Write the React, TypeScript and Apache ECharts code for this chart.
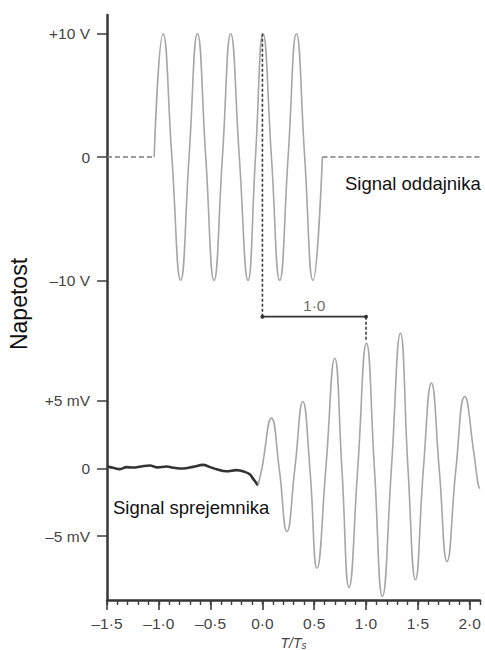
import React, { useEffect, useRef } from "react";
import * as echarts from "echarts";

// ---- tick labels ----
const xTickValues = [-1.5, -1.0, -0.5, 0, 0.5, 1.0, 1.5, 2.0];
const xTickLabels = ["–1·5", "–1·0", "–0·5", "0·0", "0·5", "1·0", "1·5", "2·0"];
const xMinorTicks = [
  -1.5, -1.4, -1.3, -1.2, -1.1, -1.0, -0.9, -0.8, -0.7, -0.6, -0.5, -0.4, -0.3, -0.2, -0.1,
  0, 0.1, 0.2, 0.3, 0.4, 0.5, 0.6, 0.7, 0.8, 0.9, 1.0, 1.1, 1.2, 1.3, 1.4, 1.5, 1.6, 1.7,
  1.8, 1.9, 2.0, 2.1,
];
const yVTickValues = [10, 0, -10];
const yVTickLabels = ["+10 V", "0", "–10 V"];
const ymVTickValues = [5, 0, -5];
const ymVTickLabels = ["+5 mV", "0", "–5 mV"];

// ---- transmitter signal (V) ----
const txPreX = [-1.5, -1.045];
const txPreY = [0, 0];
const txWaveX = [
  -1.045, -0.959, -0.874, -0.789, -0.708, -0.627, -0.547, -0.467, -0.386, -0.306, -0.223,
  -0.139, -0.067, 0.006, 0.087, 0.167, 0.248, 0.328, 0.408, 0.488, 0.579,
];
const txWaveY = [0, 10, 0, -10, 0, 10, 0, -10, 0, 10, 0, -10, 0, 10, 0, -10, 0, 10, 0, -10, 0];
const txPostX = [0.579, 2.1];
const txPostY = [0, 0];

// ---- receiver signal (mV) ----
const rxBaseX = [
  -1.5, -1.44, -1.376, -1.31, -1.25, -1.17, -1.088, -1.01, -0.927, -0.85, -0.766, -0.67,
  -0.573, -0.51, -0.444, -0.347, -0.251, -0.171, -0.12, -0.091, -0.042,
];
const rxBaseY = [
  0.15, 0.05, -0.05, 0.1, 0.07, 0.15, 0.22, 0.08, 0.15, 0.05, 0.0, 0.12, 0.27, 0.12, -0.05,
  -0.2, -0.12, -0.25, -0.45, -0.75, -1.25,
];
const rxWaveX = [
  -0.042, -0.005, 0.087, 0.162, 0.237, 0.313, 0.39, 0.458, 0.527, 0.612, 0.698, 0.767, 0.836,
  0.92, 1.004, 1.081, 1.158, 1.245, 1.332, 1.405, 1.477, 1.554, 1.631, 1.706, 1.782, 1.868,
  1.953, 2.04, 2.08, 2.097,
];
const rxWaveY = [
  -1.25, 0, 3.73, 0, -4.67, 0, 4.96, 0, -7.39, 0, 8.17, 0, -8.81, 0, 9.28, 0, -9.48, 0, 10.02,
  0, -8.24, 0, 6.32, 0, -6.89, 0, 5.33, 1.2, -1.1, -1.5,
];

// ---- scale bar (1·0 period) ----
const barX = [0, 1.0];
const barYV = [-12.95, -12.95];
const dash0X = [0, 0];
const dash0Y = [10, -12.95];
const dash1X = [1.0, 1.0];
const dash1Y = [-12.95, -14.98];

const zip = (xs: number[], ys: number[]) => xs.map((x, i) => [x, ys[i]]);

const FONT = "'Liberation Sans', Arial, Helvetica, sans-serif";
const LABEL_COLOR = "#444444";

export default function App() {
  const ref = useRef<HTMLDivElement>(null);
  useEffect(() => {
    if (!ref.current) return;
    const chart = echarts.init(ref.current, null, { renderer: "svg" });
    const waveGray = "#a6a6a6";
    chart.setOption({
      animation: false,
      backgroundColor: "#ffffff",
      grid: {
        left: 107,
        right: 5,
        top: 15,
        bottom: 50,
        containLabel: false,
        outerBoundsMode: "none",
      },
      xAxis: [
        {
          type: "value",
          position: "bottom",
          min: -1.5,
          max: 2.1,
          interval: 0.5,
          splitLine: { show: false },
          axisLine: { show: true, onZero: false, lineStyle: { color: "#363636", width: 2.5 } },
          axisTick: {
            show: true,
            customValues: xTickValues,
            length: 10,
            lineStyle: { color: "#3c3c3c", width: 1.6 },
          },
          axisLabel: {
            customValues: xTickValues,
            margin: 15,
            fontSize: 15.5,
            fontFamily: FONT,
            color: LABEL_COLOR,
            formatter: (v: number) => {
              const i = xTickValues.findIndex((t) => Math.abs(t - v) < 1e-6);
              return i >= 0 ? xTickLabels[i] : "";
            },
          },
          name: "{a|T/T}{b|s}",
          nameLocation: "middle",
          nameGap: 33,
          nameTextStyle: {
            rich: {
              a: { fontSize: 14, fontStyle: "italic", fontFamily: FONT, color: LABEL_COLOR },
              b: { fontSize: 10, fontStyle: "italic", fontFamily: FONT, color: LABEL_COLOR, padding: [5, 0, 0, 0] },
            },
          },
        },
        {
          type: "value",
          position: "bottom",
          min: -1.5,
          max: 2.1,
          interval: 0.5,
          splitLine: { show: false },
          axisLine: { show: false, onZero: false },
          axisLabel: { show: false },
          axisTick: {
            show: true,
            customValues: xMinorTicks,
            length: 5,
            lineStyle: { color: "#3c3c3c", width: 1.4 },
          },
        },
      ],
      yAxis: [
        {
          type: "value",
          position: "left",
          min: -35.93,
          max: 11.52,
          splitLine: { show: false },
          axisLine: { show: true, onZero: false, lineStyle: { color: "#363636", width: 2.5 } },
          axisTick: {
            show: true,
            customValues: yVTickValues,
            length: 10,
            lineStyle: { color: "#3c3c3c", width: 1.5 },
          },
          axisLabel: {
            customValues: yVTickValues,
            margin: 17,
            fontSize: 15.5,
            fontFamily: FONT,
            color: LABEL_COLOR,
            formatter: (v: number) => {
              const i = yVTickValues.findIndex((t) => Math.abs(t - v) < 1e-6);
              return i >= 0 ? yVTickLabels[i] : "";
            },
          },
        },
        {
          type: "value",
          position: "left",
          offset: 0,
          min: -9.74,
          max: 33.59,
          splitLine: { show: false },
          axisLine: { show: false, onZero: false },
          axisTick: {
            show: true,
            customValues: ymVTickValues,
            length: 10,
            lineStyle: { color: "#3c3c3c", width: 1.5 },
          },
          axisLabel: {
            customValues: ymVTickValues,
            margin: 17,
            fontSize: 15.5,
            fontFamily: FONT,
            color: LABEL_COLOR,
            formatter: (v: number) => {
              const i = ymVTickValues.findIndex((t) => Math.abs(t - v) < 1e-6);
              return i >= 0 ? ymVTickLabels[i] : "";
            },
          },
        },
      ],
      series: [
        {
          type: "line",
          xAxisIndex: 0,
          yAxisIndex: 0,
          data: zip(txPreX, txPreY),
          symbol: "none",
          lineStyle: { color: "#7a7a7a", width: 1.5, type: [5, 3] },
        },
        {
          type: "line",
          xAxisIndex: 0,
          yAxisIndex: 0,
          data: zip(txWaveX, txWaveY),
          smooth: 0.5,
          symbol: "none",
          lineStyle: { color: waveGray, width: 1.6 },
        },
        {
          type: "line",
          xAxisIndex: 0,
          yAxisIndex: 0,
          data: zip(txPostX, txPostY),
          symbol: "none",
          lineStyle: { color: "#7a7a7a", width: 1.5, type: [5, 3] },
        },
        {
          type: "line",
          xAxisIndex: 0,
          yAxisIndex: 1,
          data: zip(rxBaseX, rxBaseY),
          smooth: 0.4,
          symbol: "none",
          lineStyle: { color: "#333333", width: 2.6 },
        },
        {
          type: "line",
          xAxisIndex: 0,
          yAxisIndex: 1,
          data: zip(rxWaveX, rxWaveY),
          smooth: 0.5,
          symbol: "none",
          lineStyle: { color: waveGray, width: 1.6 },
        },
        {
          type: "line",
          xAxisIndex: 0,
          yAxisIndex: 0,
          data: zip(dash0X, dash0Y),
          symbol: "none",
          lineStyle: { color: "#3a3a3a", width: 1.6, type: [3, 2] },
        },
        {
          type: "line",
          xAxisIndex: 0,
          yAxisIndex: 0,
          data: zip(dash1X, dash1Y),
          symbol: "none",
          lineStyle: { color: "#3a3a3a", width: 1.6, type: [3, 2] },
        },
        {
          type: "line",
          xAxisIndex: 0,
          yAxisIndex: 0,
          data: zip(barX, barYV),
          symbol: "circle",
          symbolSize: 4,
          itemStyle: { color: "#333333" },
          lineStyle: { color: "#333333", width: 1.8 },
        },
        {
          type: "scatter",
          xAxisIndex: 0,
          yAxisIndex: 0,
          data: [[(barX[0] + barX[1]) / 2, barYV[0]]],
          symbolSize: 0,
          label: {
            show: true,
            position: "top",
            distance: 3,
            formatter: "1·0",
            fontSize: 15.5,
            fontFamily: FONT,
            color: LABEL_COLOR,
          },
        },
      ],
      graphic: [
        {
          type: "text",
          x: 19,
          y: 304,
          rotation: Math.PI / 2,
          style: {
            text: "Napetost",
            fontSize: 23,
            fontFamily: FONT,
            fill: "#111111",
            align: "center",
            verticalAlign: "middle",
          },
        },
        {
          type: "text",
          x: 345,
          y: 183,
          style: {
            text: "Signal oddajnika",
            fontSize: 18.5,
            fontFamily: FONT,
            fill: "#111111",
            align: "left",
            verticalAlign: "middle",
          },
        },
        {
          type: "text",
          x: 113,
          y: 507,
          style: {
            text: "Signal sprejemnika",
            fontSize: 18.5,
            fontFamily: FONT,
            fill: "#111111",
            align: "left",
            verticalAlign: "middle",
          },
        },
      ],
    });
    return () => chart.dispose();
  }, []);
  return (
    <div
      ref={ref}
      style={{ position: "fixed", left: 0, top: 0, width: 485, height: 650, background: "#fff" }}
    />
  );
}
